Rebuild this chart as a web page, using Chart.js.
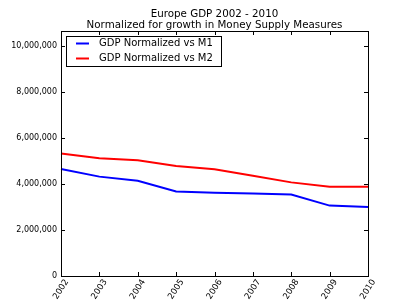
<!DOCTYPE html>
<html>
<head>
<meta charset="utf-8">
<script src="https://cdn.jsdelivr.net/npm/chart.js@4"></script>
<style>
  html, body { margin: 0; padding: 0; background: #fff; }
  #wrap { width: 409px; height: 307px; }
</style>
</head>
<body>
<div id="wrap"><canvas id="gdpChart" width="409" height="307"></canvas></div>
<script>
// values
var years = ["2002", "2003", "2004", "2005", "2006", "2007", "2008", "2009", "2010"];
var gdpVsM1 = [4650000, 4320000, 4140000, 3670000, 3620000, 3590000, 3540000, 3060000, 3000000];
var gdpVsM2 = [5320000, 5120000, 5030000, 4780000, 4640000, 4360000, 4070000, 3880000, 3880000];
var yTicks = [0, 2000000, 4000000, 6000000, 8000000, 10000000];
var titleLines = ["Europe GDP 2002 - 2010", "Normalized for growth in Money Supply Measures"];

var fontFamily = "'DejaVu Sans', sans-serif";

// matplotlib-like frame, inward ticks, rotated year labels, title and boxed legend
var mplLook = {
    id: "mplLook",
    afterDraw: function (chart) {
        var ctx = chart.ctx;
        var area = chart.chartArea;
        var xs = chart.scales.x;
        var ys = chart.scales.y;
        ctx.save();

        ctx.strokeStyle = "#000";
        ctx.lineWidth = 1;
        ctx.strokeRect(Math.round(area.left) + 0.5, Math.round(area.top) + 0.5,
            Math.round(area.right - area.left), Math.round(area.bottom - area.top));

        ctx.beginPath();
        years.forEach(function (y, i) {
            var px = Math.round(xs.getPixelForValue(i)) + 0.5;
            ctx.moveTo(px, area.bottom); ctx.lineTo(px, area.bottom - 4);
            ctx.moveTo(px, area.top); ctx.lineTo(px, area.top + 4);
        });
        yTicks.forEach(function (v) {
            var py = Math.round(ys.getPixelForValue(v)) + 0.5;
            ctx.moveTo(area.left, py); ctx.lineTo(area.left + 4, py);
            ctx.moveTo(area.right, py); ctx.lineTo(area.right - 4, py);
        });
        ctx.stroke();

        // year labels, rotated and centred on their tick like matplotlib does
        var ang = 57 * Math.PI / 180;
        var fs = 8.5;
        ctx.fillStyle = "#000";
        ctx.font = fs + "px " + fontFamily;
        ctx.textAlign = "center";
        ctx.textBaseline = "middle";
        years.forEach(function (y, i) {
            var w = ctx.measureText(y).width;
            var boxH = w * Math.sin(ang) + fs * Math.cos(ang);
            var cx = xs.getPixelForValue(i);
            var cy = area.bottom + 2 + boxH / 2;
            ctx.save();
            ctx.translate(cx, cy);
            ctx.rotate(-ang);
            ctx.fillText(y, 0, 0);
            ctx.restore();
        });

        // title
        ctx.font = "10.3px " + fontFamily;
        ctx.textAlign = "center";
        ctx.textBaseline = "alphabetic";
        var mid = (area.left + area.right) / 2;
        ctx.fillText(titleLines[0], mid, 16.5);
        ctx.fillText(titleLines[1], mid, 27.5);

        // legend
        ctx.fillStyle = "#fff";
        ctx.fillRect(66, 36, 156, 31);
        ctx.strokeStyle = "#000";
        ctx.lineWidth = 1;
        ctx.strokeRect(66.5, 36.5, 155, 30);
        ctx.font = "10px " + fontFamily;
        ctx.textAlign = "left";
        ctx.textBaseline = "middle";
        chart.data.datasets.forEach(function (ds, i) {
            var ly = 43.5 + i * 15;
            ctx.strokeStyle = ds.borderColor;
            ctx.lineWidth = 2;
            ctx.beginPath();
            ctx.moveTo(76, ly); ctx.lineTo(89, ly);
            ctx.stroke();
            ctx.fillStyle = "#000";
            ctx.fillText(ds.label, 99, ly);
        });
        ctx.restore();
    }
};

var ctx = document.getElementById("gdpChart").getContext("2d");
new Chart(ctx, {
    type: "line",
    data: {
        labels: years,
        datasets: [
            { label: "GDP Normalized vs M1", data: gdpVsM1, borderColor: "#0000ff", borderWidth: 2, pointRadius: 0, fill: false, tension: 0 },
            { label: "GDP Normalized vs M2", data: gdpVsM2, borderColor: "#ff0000", borderWidth: 2, pointRadius: 0, fill: false, tension: 0 }
        ]
    },
    options: {
        responsive: false,
        animation: false,
        layout: { padding: { top: 31, right: 41, left: 0, bottom: 0 } },
        plugins: {
            legend: { display: false },
            title: { display: false },
            tooltip: { enabled: false }
        },
        scales: {
            x: {
                offset: false,
                grid: { display: false, drawTicks: false },
                border: { display: false },
                ticks: { display: false },
                afterFit: function (scale) { scale.height = 31; }
            },
            y: {
                min: 0,
                max: 10650000,
                grid: { display: false, drawTicks: false },
                border: { display: false },
                afterBuildTicks: function (scale) {
                    scale.ticks = yTicks.map(function (v) { return { value: v }; });
                },
                ticks: {
                    color: "#000",
                    font: { family: fontFamily, size: 8 },
                    padding: 4,
                    callback: function (v) { return Number(v).toLocaleString("en-US"); }
                },
                afterFit: function (scale) { scale.width = 61; }
            }
        }
    },
    plugins: [mplLook]
});
</script>
</body>
</html>
